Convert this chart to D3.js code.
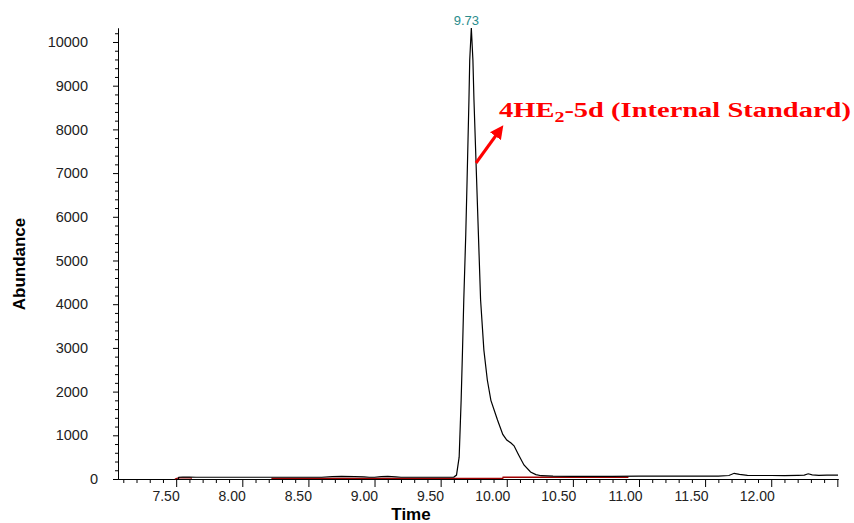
<!DOCTYPE html>
<html>
  <head>
    <meta http-equiv="Content-Type" content="text/html;charset=utf-8"/>
    <title>Chromatogram</title>
    <script src="https://d3js.org/d3.v7.min.js"></script>
  </head>
  <body style="margin:0;background:#fff">
    <style>
    text {
    font-family: "Liberation Sans", Arial, sans-serif;
    }
    </style>
    <script type="text/javascript">
        // trace values (time in min, abundance)
        const blackTime = [7.515, 7.52, 7.55, 7.60, 7.65, 7.80, 8.00, 8.30, 8.60, 8.68, 8.75, 8.85, 8.92, 8.96, 9.00, 9.05, 9.10, 9.16, 9.20, 9.40, 9.55, 9.60, 9.62, 9.64, 9.655, 9.665, 9.675, 9.69, 9.70, 9.714, 9.72, 9.732, 9.744, 9.752, 9.772, 9.802, 9.827, 9.853, 9.88, 9.93, 9.97, 10.00, 10.03, 10.055, 10.09, 10.13, 10.18, 10.22, 10.26, 10.35, 10.50, 10.80, 11.00, 11.30, 11.60, 11.68, 11.72, 11.76, 11.82, 11.90, 12.00, 12.10, 12.20, 12.25, 12.28, 12.31, 12.36, 12.42, 12.505]
        const blackValue = [0, 40, 45, 42, 40, 40, 40, 40, 40, 55, 60, 55, 50, 40, 40, 55, 60, 50, 40, 40, 40, 45, 90, 500, 1800, 2900, 4100, 5600, 6840, 8670, 9590, 10320, 9590, 8670, 6840, 4100, 2950, 2265, 1800, 1350, 1020, 890, 830, 760, 550, 320, 160, 100, 75, 65, 60, 62, 65, 65, 65, 80, 130, 105, 85, 80, 80, 75, 85, 90, 120, 95, 85, 90, 90]

        const redTime = [7.49, 7.51, 7.53, 7.56, 7.60, 7.62, null, 8.22, 8.60, 9.00, 9.50, 9.97, 9.972, 10.40, 10.92]
        const redValue = [0, 20, 25, 25, 25, 20, null, 15, 15, 15, 15, 15, 40, 40, 40]

        const xMajor = [7.5, 8.0, 8.5, 9.0, 9.5, 10.0, 10.5, 11.0, 11.5, 12.0, 12.5]
        const xLabels = ["7.50", "8.00", "8.50", "9.00", "9.50", "10.00", "10.50", "11.00", "11.50", "12.00", ""]
        const yMajor = [0, 1000, 2000, 3000, 4000, 5000, 6000, 7000, 8000, 9000, 10000]

        const peakLabel = "9.73"
        const peakTime = 9.732

        const width = 854,
              height = 523

        const svg = d3.select("body").append("svg")
            .attr("width", width)
            .attr("height", height)
            .style("display", "block")

        const x = d3.scaleLinear().domain([7.06, 12.505]).range([118, 838])
        const y = d3.scaleLinear().domain([0, 10320]).range([479, 28])

        // minor ticks
        const xMinor = d3.range(7.1, 12.45, 0.1).filter(v => Math.abs(v * 2 - Math.round(v * 2)) > 0.01)
        const yMinor = d3.range(200, 10400, 200).filter(v => v % 1000 !== 0)

        svg.append("g")
            .attr("transform", "translate(0,479)")
            .call(d3.axisBottom(x).tickValues(xMinor).tickSize(4).tickSizeOuter(0).tickFormat(""))

        const xAxis = svg.append("g")
            .attr("transform", "translate(0,479)")
            .call(d3.axisBottom(x).tickValues(xMajor).tickSize(8).tickSizeOuter(0)
                .tickFormat((d, i) => xLabels[i]))
        xAxis.selectAll("text")
            .attr("text-anchor", "end")
            .attr("dx", 3)
            .attr("y", 12)
            .style("font-size", "14px")
            .style("fill", "#222")

        svg.append("g")
            .attr("transform", "translate(118,0)")
            .call(d3.axisLeft(y).tickValues(yMinor).tickSize(3).tickSizeOuter(0).tickFormat(""))

        const yAxis = svg.append("g")
            .attr("transform", "translate(118,0)")
            .call(d3.axisLeft(y).tickValues(yMajor).tickSize(5).tickSizeOuter(0).tickFormat(d3.format("d")))
        yAxis.selectAll("text")
            .attr("x", d => d === 0 ? -20 : -30)
            .style("font-size", "14.5px")
            .style("fill", "#222")

        svg.selectAll(".domain, .tick line").attr("stroke", "#000")

        // traces
        const redLine = d3.line()
            .defined((d, i) => redTime[i] !== null)
            .x((d, i) => x(redTime[i]))
            .y(d => y(d))
        svg.append("path")
            .attr("d", redLine(redValue))
            .attr("fill", "none")
            .attr("stroke", "#a00000")
            .attr("stroke-width", 1.3)

        const blackLine = d3.line()
            .x((d, i) => x(blackTime[i]))
            .y(d => y(d))
        svg.append("path")
            .attr("d", blackLine(blackValue))
            .attr("fill", "none")
            .attr("stroke", "#000")
            .attr("stroke-width", 1.2)

        // peak label
        svg.append("text")
            .attr("x", x(peakTime) - 5)
            .attr("y", 25)
            .attr("text-anchor", "middle")
            .style("font-size", "13px")
            .style("fill", "#2a8c8c")
            .text(peakLabel)

        // axis titles
        svg.append("text")
            .attr("x", 411)
            .attr("y", 520)
            .attr("text-anchor", "middle")
            .style("font-size", "17px")
            .style("font-weight", "bold")
            .text("Time")

        svg.append("text")
            .attr("transform", "translate(25,264) rotate(-90)")
            .attr("text-anchor", "middle")
            .style("font-size", "17px")
            .style("font-weight", "bold")
            .text("Abundance")

        // annotation
        svg.append("defs").append("marker")
            .attr("id", "head")
            .attr("viewBox", "0 0 10 10")
            .attr("refX", 2)
            .attr("refY", 5)
            .attr("markerWidth", 4.5)
            .attr("markerHeight", 4.5)
            .attr("orient", "auto")
            .append("path")
            .attr("d", "M0,0L10,5L0,10z")
            .attr("fill", "#ff0000")

        svg.append("line")
            .attr("x1", 476).attr("y1", 163)
            .attr("x2", 497).attr("y2", 134)
            .attr("stroke", "#ff0000")
            .attr("stroke-width", 3)
            .attr("marker-end", "url(#head)")

        // the source text is stretched sideways, so scale it to the measured width
        const note = svg.append("text")
            .style("font-family", "'Liberation Serif', 'Times New Roman', serif")
            .style("font-weight", "bold")
            .style("font-size", "20px")
            .style("fill", "#ff0000")
        note.append("tspan").text("4HE")
        note.append("tspan").attr("dy", 5).style("font-size", "14px").text("2")
        note.append("tspan").attr("dy", -5).text("-5d (Internal Standard)")
        const w = note.node().getBBox().width
        note.attr("transform", "translate(499,116.5) scale(" + (352 / w) + ",1)")
    </script>
  </body>
</html>
